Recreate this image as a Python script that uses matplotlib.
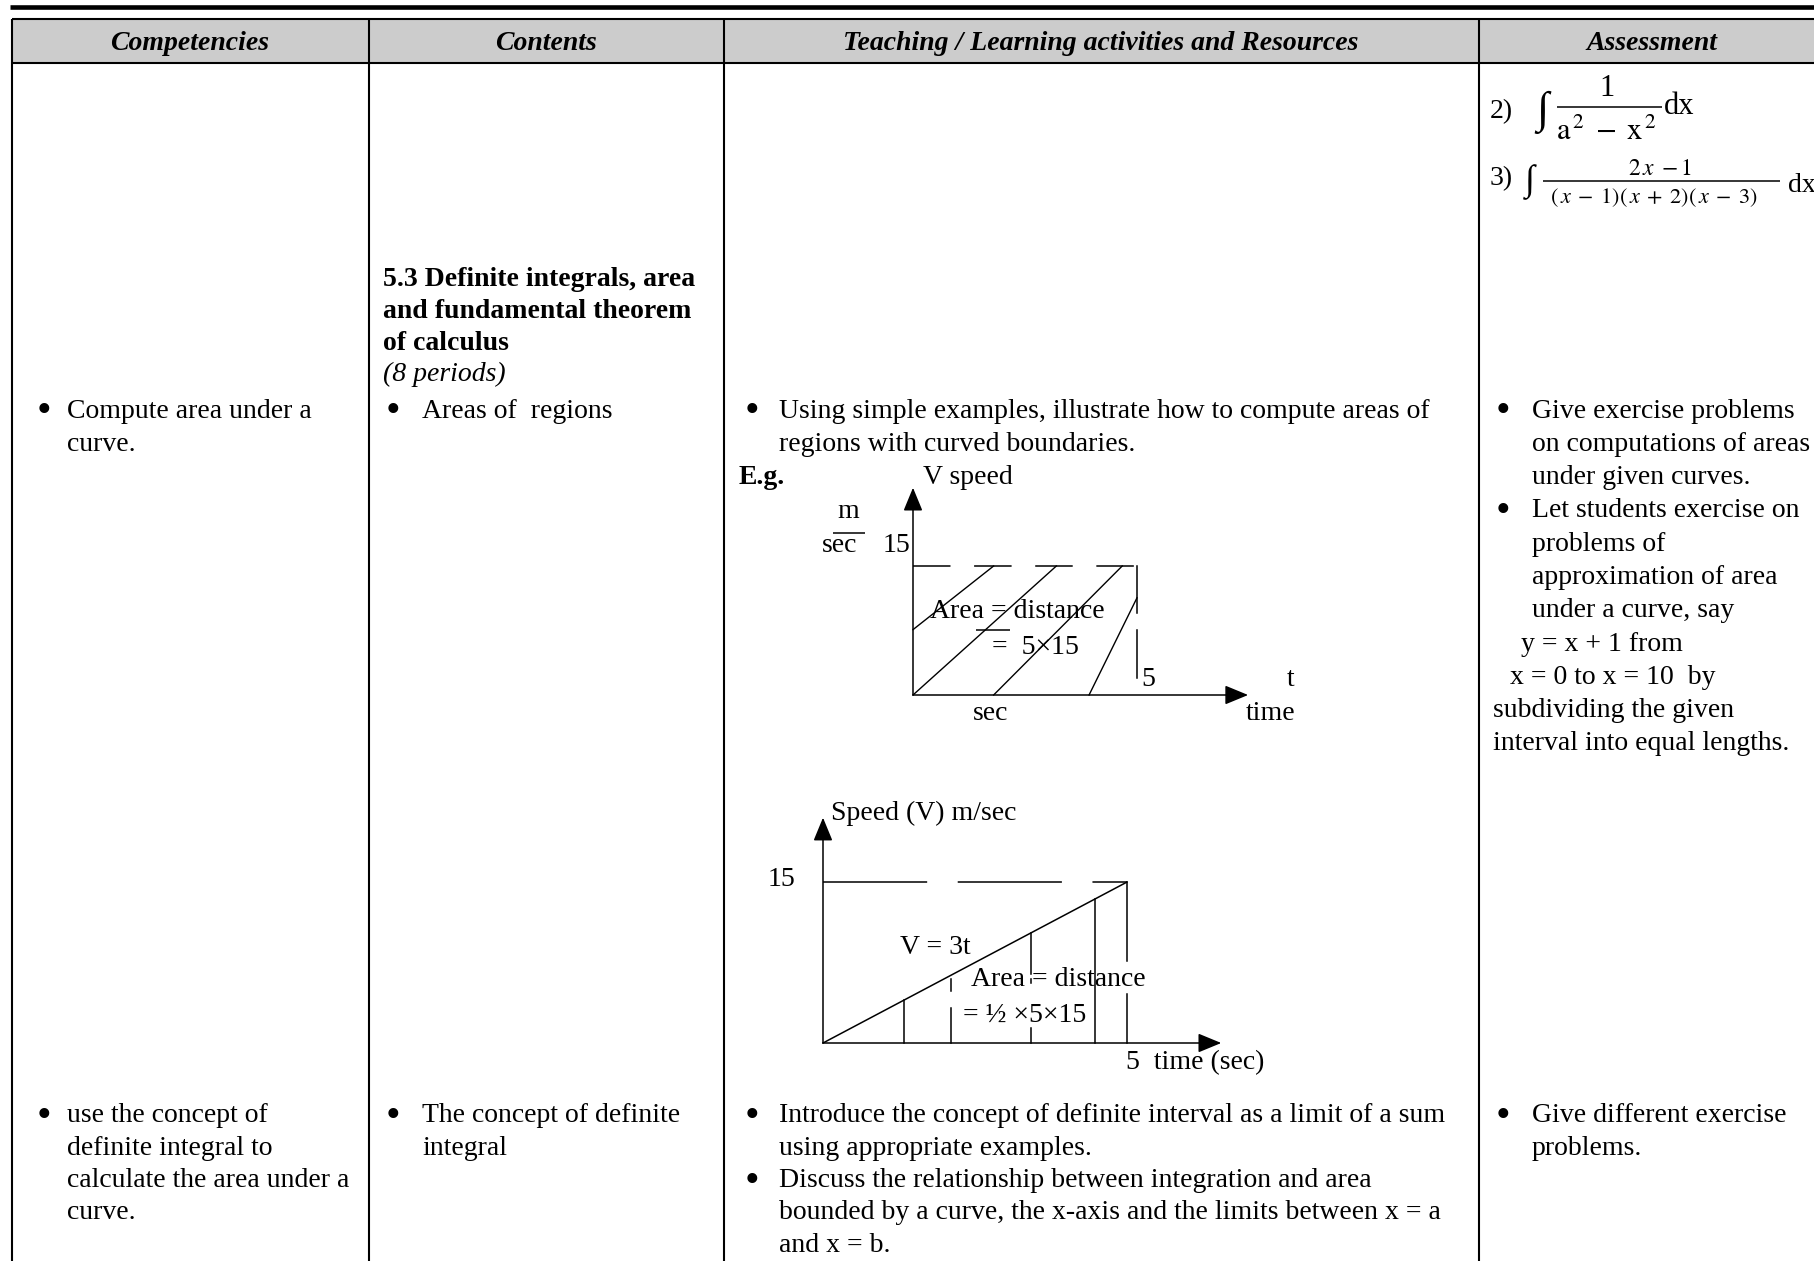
import matplotlib.pyplot as plt
from matplotlib.patches import Rectangle

# ---- content -------------------------------------------------------------
headers = ["Competencies", "Contents",
           "Teaching / Learning activities and Resources", "Assessment"]

competency_1 = ["Compute area under a", "curve."]
competency_2 = ["use the concept of", "definite integral to",
                "calculate the area under a", "curve."]

content_heading = ["5.3 Definite integrals, area", "and fundamental theorem",
                   "of calculus"]
content_periods = "(8 periods)"
content_1 = ["Areas of  regions"]
content_2 = ["The concept of definite", "integral"]

activity_1 = ["Using simple examples, illustrate how to compute areas of",
              "regions with curved boundaries."]
activity_2a = ["Introduce the concept of definite interval as a limit of a sum",
               "using appropriate examples."]
activity_2b = ["Discuss the relationship between integration and area",
               "bounded by a curve, the x-axis and the limits between x = a",
               "and x = b."]

assessment_1a = ["Give exercise problems", "on computations of areas",
                 "under given curves."]
assessment_1b = ["Let students exercise on", "problems of",
                 "approximation of area", "under a curve, say"]
assessment_1c = ["y = x + 1 from", "x = 0 to x = 10  by"]
assessment_1d = ["subdividing the given", "interval into equal lengths."]
assessment_2 = ["Give different exercise", "problems."]

# ---- diagram values --------------------------------------------------------
t_end = 5          # seconds
v_const = 15       # m/sec, constant speed example
v_slope = 3        # V = 3t example
# hand-drawn hatching of the rectangle (t0, v0, t1, v1)
hatch_lines = [(0.0, 7.6, 1.8, 15.0), (0.0, 0.0, 3.2, 15.0),
               (1.8, 0.0, 4.67, 15.0), (3.93, 0.0, 5.0, 11.3)]
# vertical strips under V = 3t and the parts of them that are visible
strip_t = [1.33, 2.1, 3.42, 4.47, 5.0]
strip_spans = [[(0, 4.0)],
               [(0, 3.3), (4.8, 6.0)],
               [(0, 1.4), (5.6, 6.0), (6.4, 10.26)],
               [(0, 13.4)],
               [(0, 4.6), (7.6, 15.0)]]

# ---- page setup ------------------------------------------------------------
W, H = 1814, 1261
FONT = ["Liberation Serif", "DejaVu Serif"]
SIZE = 20
LINE = 33.3
plt.rcParams["mathtext.fontset"] = "stix"
plt.rcParams["lines.scale_dashes"] = False

fig = plt.figure(figsize=(W / 100, H / 100), dpi=100)
ax = fig.add_axes([0, 0, 1, 1])
ax.set_xlim(0, W)
ax.set_ylim(H, 0)
ax.axis("off")


def put(x, y, s, size=SIZE, **kw):
    kw.setdefault("ha", "left")
    ax.text(x, y, s, fontsize=size, family=FONT, va="center", **kw)


def block(xb, xt, y0, lines, bullet=True, step=LINE):
    if bullet:
        put(xb, y0 + 1, "\u2022", size=30, ha="center")
    for i, s in enumerate(lines):
        put(xt, y0 + i * step, s)
    return y0 + len(lines) * step


# table frame
ax.add_patch(Rectangle((12, 19), W - 12, 44, color="#cccccc", lw=0))
ax.hlines(7, 10, W, lw=3.3, color="k")
ax.hlines([19, 63], 12, W, lw=1.5, color="k")
ax.vlines([12, 369, 724, 1479], 19, H, lw=1.5, color="k")

for cx, s in zip([190, 546, 1101, 1652], headers):
    put(cx, 43, s, ha="center", weight="bold", style="italic")

ROW3 = 1116
STEP3 = 32.3

# column 1
block(44, 67, 411, competency_1)
block(44, 67, ROW3, competency_2, step=STEP3)

# column 2
for i, s in enumerate(content_heading):
    put(383, 279 + i * 32, s, weight="bold")
put(383, 374, content_periods, style="italic")
block(393, 422, 411, content_1)
block(393, 422, ROW3, content_2, step=STEP3)

# column 3
block(752, 779, 411, activity_1)
y = block(752, 779, ROW3, activity_2a, step=STEP3)
block(752, 779, y, activity_2b, step=STEP3)

# column 4
y = block(1503, 1532, 411, assessment_1a)
y = block(1503, 1532, y, assessment_1b)
put(1521, y, assessment_1c[0])
put(1510, y + LINE, assessment_1c[1])
y += 2 * LINE
block(0, 1493, y, assessment_1d, bullet=False)
block(1503, 1532, ROW3, assessment_2, step=STEP3)

# assessment formulas carried over from the previous page
put(1490, 112, "2)")
ax.text(1542, 112, "\u222b", fontsize=32, family=FONT, ha="center", va="center")
put(1607, 88, "1", size=22, ha="center")
ax.hlines(107, 1557, 1662, lw=1.1, color="k")
ax.text(1607, 131, r"$\mathrm{a}^{\,2}\;-\;\mathrm{x}^{\,2}$", fontsize=22,
        ha="center", va="center")
put(1664, 107, "dx", size=22)

put(1490, 179, "3)")
ax.text(1530, 182, "\u222b", fontsize=26, family=FONT, ha="center", va="center")
ax.text(1660, 168, r"$2\,x\;-1$", fontsize=17, ha="center", va="center")
ax.hlines(181, 1543, 1780, lw=1.1, color="k")
ax.text(1654, 198, r"$(\,x\;-\;1)(\,x\;+\;2)(\,x\;-\;3)$", fontsize=16,
        ha="center", va="center")
put(1788, 186, "dx", size=20)


# ---- diagrams --------------------------------------------------------------
def diagram_axes(origin, px_t, px_v, t_range, v_range):
    left = origin[0] + t_range[0] * px_t
    right = origin[0] + t_range[1] * px_t
    bottom = origin[1] - v_range[0] * px_v
    top = origin[1] - v_range[1] * px_v
    d = fig.add_axes([left / W, 1 - bottom / H, (right - left) / W,
                      (bottom - top) / H])
    d.set_xlim(t_range)
    d.set_ylim(v_range)
    d.axis("off")
    return d


def axis_arrows(d, t_tip, v_tip):
    style = dict(arrowstyle="-|>,head_length=0.8,head_width=0.33", lw=1.1,
                 color="k", shrinkA=0, shrinkB=0, mutation_scale=18)
    d.annotate("", xy=(0, v_tip), xytext=(0, 0), arrowprops=style,
               annotation_clip=False)
    d.annotate("", xy=(t_tip, 0), xytext=(0, 0), arrowprops=style,
               annotation_clip=False)


# E.g. constant speed
d1 = diagram_axes((913, 695), 44.8, 8.6, (-0.5, 8.0), (-1.5, 25.5))
axis_arrows(d1, 7.48, 24.1)
d1.plot([0, t_end], [v_const, v_const], color="k", lw=1.1, dashes=(27, 17))
d1.plot([t_end, t_end], [v_const, 9.5], color="k", lw=1.1)
d1.plot([t_end, t_end], [7.6, 2.0], color="k", lw=1.1)
for t0, v0, t1, v1 in hatch_lines:
    d1.plot([t0, t1], [v0, v1], color="k", lw=1.0)

put(739, 478, "E.g.", weight="bold")
put(923, 477, "V speed")
put(848, 512, "m", ha="center")
ax.hlines(533, 833, 865, lw=1.1, color="k")
put(840, 546, "sec", ha="center")
put(883, 546, str(v_const))
put(930, 612, "Area = distance")
ax.hlines(630, 976, 1010, lw=1.1, color="k")
put(992, 647, f"=  {t_end}\u00d7{v_const}")
put(1141, 680, str(t_end))
put(1287, 680, "t")
put(1246, 713, "time")
put(973, 713, "sec")

# V = 3t
d2 = diagram_axes((823, 1043), 60.8, 10.73, (-0.3, 7.0), (-0.5, 22.0))
axis_arrows(d2, 6.55, 21.0)
d2.plot([0, t_end], [v_const, v_const], color="k", lw=1.1, dashes=(75, 22))
d2.plot([0, t_end], [0, v_slope * t_end], color="k", lw=1.1)
for t, spans in zip(strip_t, strip_spans):
    for lo, hi in spans:
        d2.plot([t, t], [lo, hi], color="k", lw=1.1)

put(831, 813, "Speed (V) m/sec")
put(768, 880, str(v_const))
put(900, 947, f"V = {v_slope}t")
put(971, 980, "Area = distance")
put(963, 1015, f"= \u00bd \u00d7{t_end}\u00d7{v_const}")
put(1126, 1063, f"{t_end}  time (sec)")

fig.savefig("out.png", dpi=100)
